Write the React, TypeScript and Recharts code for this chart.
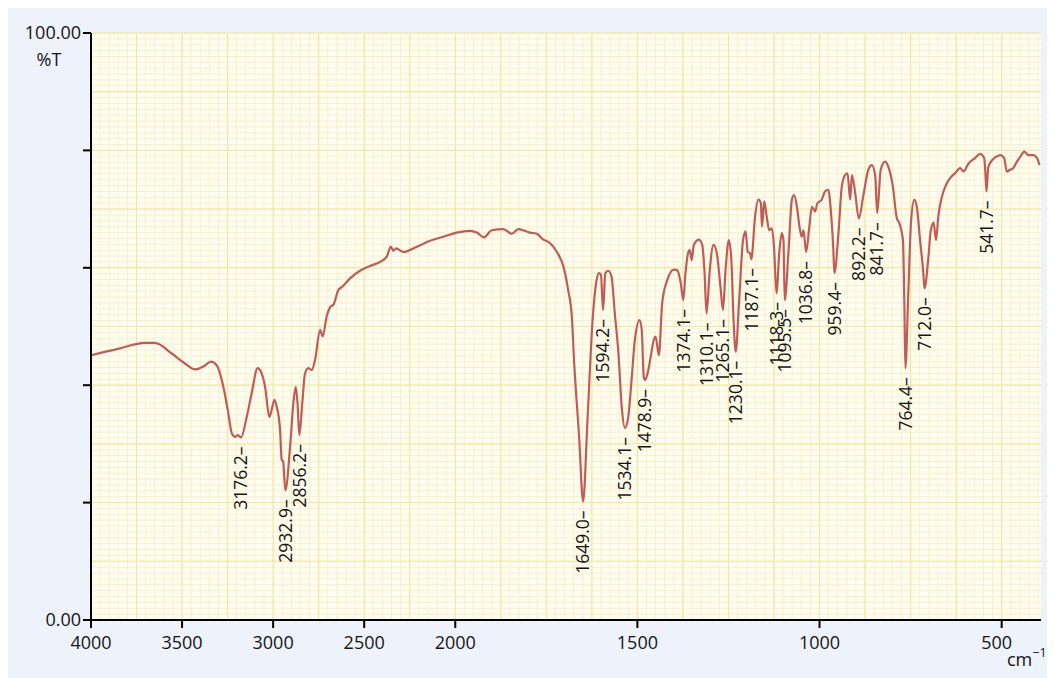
import React from 'react';
import { ComposedChart, Line, Scatter, XAxis, YAxis, CartesianGrid } from 'recharts';

// IR spectrum (cm-1 / %T)
const wavenumbers = [
  4000, 3852, 3703, 3649, 3557, 3484, 3429, 3383, 3341, 3310, 3273, 3246, 3227, 3209, 3194, 3176.2,
  3145, 3118, 3085, 3063, 3044, 3021, 3008, 2993, 2980, 2962, 2953, 2945, 2932.9, 2907, 2889, 2876,
  2866, 2856.2, 2840, 2825, 2807, 2788, 2770, 2742, 2728, 2706, 2684, 2669, 2642, 2623, 2578, 2523,
  2468, 2413, 2376, 2354, 2340, 2325, 2285, 2211, 2138, 2065, 1996, 1959, 1941, 1921, 1900, 1868,
  1845, 1827, 1795, 1776, 1758, 1744, 1721, 1703, 1690, 1680, 1674, 1660, 1649.0, 1637, 1623, 1612,
  1606, 1600, 1594.2, 1588, 1580, 1571, 1562, 1552, 1543, 1534.1, 1525, 1516, 1507, 1494, 1488, 1482.5,
  1478.9, 1472, 1462, 1455, 1450, 1441, 1432, 1418, 1400, 1391, 1381, 1374.1, 1368, 1360, 1356, 1351,
  1345, 1331, 1322, 1316, 1310.1, 1302, 1291, 1282, 1272, 1265.1, 1258, 1249, 1242, 1236, 1230.1, 1221,
  1210, 1203, 1197, 1191, 1187.1, 1177, 1168, 1161, 1158, 1152, 1145, 1138, 1131, 1125, 1118.3, 1110,
  1103.5, 1099, 1095.5, 1085, 1076, 1070, 1062, 1055, 1049, 1044, 1036.8, 1028, 1021, 1012, 1006, 994,
  985, 976, 969, 962, 959.4, 948, 939, 930, 923, 916, 911, 902, 892.2, 879.5, 866, 856,
  847, 841.7, 832, 820, 811, 799, 788, 781, 771, 767, 764.4, 756, 749, 740, 733, 724,
  715, 712.0, 701, 694.5, 687, 680, 674, 664, 650.5, 637, 628, 614, 605, 591, 573, 559,
  548, 544.5, 541.7, 537, 532, 518, 504, 493, 486, 477, 468, 458, 449, 438, 426.5, 413,
  403, 396,
];

const transmittance = [
  45.1, 46.2, 47.2, 47.2, 45.4, 43.7, 42.7, 43.2, 44.0, 43.4, 39.7, 35.2, 31.8, 31.2, 31.5, 31.1,
  34.6, 38.6, 42.9, 42.0, 39.7, 34.6, 35.8, 37.5, 36.3, 32.4, 27.3, 27.0, 22.1, 29.5, 36.9, 39.7,
  36.9, 31.5, 36.9, 42.0, 42.9, 42.6, 44.3, 49.4, 48.3, 51.7, 53.4, 53.7, 56.2, 56.7, 58.2, 59.5,
  60.3, 61.0, 61.9, 63.6, 62.9, 63.3, 62.7, 63.6, 64.6, 65.3, 66.0, 66.3, 66.0, 65.2, 66.4, 66.6,
  65.8, 66.6, 66.0, 65.8, 64.8, 64.4, 62.7, 60.2, 56.2, 51.7, 44.3, 31.2, 20.2, 34.1, 51.1, 57.9,
  59.1, 58.8, 52.8, 59.1, 59.5, 58.5, 52.2, 45.4, 36.3, 32.7, 34.6, 40.9, 47.7, 51.1, 49.4, 41.4,
  40.9, 42.0, 45.4, 47.7, 48.3, 45.1, 54.0, 57.9, 59.7, 59.6, 57.4, 54.5, 59.1, 62.7, 63.0, 61.3,
  63.9, 64.8, 63.9, 59.6, 52.2, 59.1, 63.9, 62.5, 56.8, 52.8, 59.6, 64.7, 61.3, 51.1, 45.7, 54.0,
  64.7, 66.2, 62.7, 62.5, 61.5, 68.7, 71.6, 71.0, 67.0, 71.3, 68.7, 66.4, 66.7, 63.6, 55.7, 63.0,
  65.9, 64.7, 54.5, 63.0, 71.6, 72.4, 70.4, 67.0, 65.3, 66.4, 62.7, 67.0, 70.4, 69.6, 71.0, 71.6,
  73.0, 73.3, 69.8, 63.0, 59.1, 65.9, 73.8, 75.8, 76.1, 71.6, 75.8, 72.7, 68.4, 72.4, 76.7, 77.5,
  75.6, 69.3, 76.7, 78.1, 77.2, 74.0, 68.5, 67.6, 64.7, 53.4, 42.9, 56.2, 67.6, 71.6, 70.4, 64.7,
  59.1, 56.5, 61.9, 66.4, 67.7, 64.7, 68.7, 72.1, 74.4, 75.6, 76.1, 77.0, 76.4, 77.8, 78.7, 79.4,
  78.7, 76.0, 73.0, 77.0, 77.8, 78.8, 79.2, 78.7, 76.4, 76.7, 77.0, 78.1, 78.9, 79.8, 79.2, 79.2,
  78.7, 77.5,
];

const peakWavenumbers = [
  3176.2, 2932.9, 2856.2, 1649.0, 1594.2, 1534.1, 1478.9, 1374.1, 1310.1, 1265.1, 1230.1,
  1187.1, 1118.3, 1095.5, 1036.8, 959.4, 892.2, 841.7, 764.4, 712.0, 541.7,
];

const xTickWavenumbers = [4000, 3500, 3000, 2500, 2000, 1500, 1000, 500];
const yTicks = [0, 20, 40, 60, 80, 100];

// the chart paper halves its scale below 2000 cm-1
const toU = (w: number) => (w >= 2000 ? (4000 - w) / 2 : 1000 + (2000 - w));
const fromU = (u: number) => (u <= 1000 ? 4000 - 2 * u : 3000 - u);

const U_MAX = toU(392);

const spectrum = wavenumbers.map((w, i) => ({ u: toU(w), t: transmittance[i] }));
const peaks = peakWavenumbers.map((w) => ({
  u: toU(w),
  t: transmittance[wavenumbers.indexOf(w)],
  label: w.toFixed(1) + '\u2013',
}));

const range = (from: number, to: number, step: number) => {
  const out: number[] = [];
  for (let v = from; v <= to + 1e-9; v += step) out.push(v);
  return out;
};
const minorV = range(0, U_MAX, 25);
const majorV = range(0, U_MAX, 125);
const minorH = range(0, 100, 1);
const majorH = range(0, 100, 10);

const FONT = '"Open Sans", "Noto Sans", sans-serif';
const INK = '#151515';

const PeakLabel = (props: any) => {
  const { cx, cy, payload } = props;
  if (cx == null || cy == null) return null;
  const y = cy + 9;
  return (
    <text
      x={cx}
      y={y}
      transform={`rotate(-90 ${cx} ${y})`}
      textAnchor="end"
      dy="0.36em"
      fontSize={17.5}
      fontFamily={FONT}
      fill={INK}
    >
      {payload.label}
    </text>
  );
};

// last label sits a little left of its tick to leave room for the unit
const XTick = (props: any) => {
  const { x, y, payload } = props;
  const w = Math.round(fromU(payload.value));
  return (
    <text x={w === 500 ? x - 5 : x} y={y} dy="0.75em" textAnchor="middle" fontSize={18} fontFamily={FONT} fill={INK}>
      {w}
    </text>
  );
};

export default function App() {
  return (
    <div
      style={{
        position: 'relative',
        width: 1047,
        height: 670,
        background: '#eef2fa',
        fontFamily: FONT,
        color: INK,
      }}
    >
      <style>{'html,body{overflow:hidden}'}</style>
      <ComposedChart width={1047} height={670} margin={{ top: 25, right: 14, bottom: 18, left: 0 }}>
        <CartesianGrid fill="#fffdf1" stroke="#f7f1c9" verticalValues={minorV} horizontalValues={minorH} />
        <CartesianGrid stroke="#f1e69b" verticalValues={majorV} horizontalValues={majorH} />
        <XAxis
          type="number"
          dataKey="u"
          domain={[0, U_MAX]}
          allowDataOverflow
          ticks={xTickWavenumbers.map(toU)}
          interval={0}
          height={40}
          tickSize={8}
          tickMargin={7}
          axisLine={{ stroke: '#000', strokeWidth: 2 }}
          tickLine={{ stroke: '#000', strokeWidth: 2 }}
          tick={<XTick />}
        />
        <YAxis
          type="number"
          domain={[0, 100]}
          ticks={yTicks}
          interval={0}
          width={83}
          tickSize={8}
          tickFormatter={(v: number) => (v === 0 || v === 100 ? v.toFixed(2) : '')}
          axisLine={{ stroke: '#000', strokeWidth: 2 }}
          tickLine={{ stroke: '#000', strokeWidth: 2 }}
          tick={{ fontSize: 18, fill: INK, fontFamily: FONT }}
        />
        <Line
          data={spectrum}
          dataKey="t"
          type="monotone"
          stroke="#bf5c57"
          strokeWidth={2.2}
          dot={false}
          activeDot={false}
          isAnimationActive={false}
        />
        <Scatter data={peaks} dataKey="t" shape={<PeakLabel />} isAnimationActive={false} />
      </ComposedChart>
      <div style={{ position: 'absolute', left: 21, top: 42, width: 40, textAlign: 'center', fontSize: 18, lineHeight: '18px' }}>
        %T
      </div>
      <div style={{ position: 'absolute', left: 999, top: 642, width: 48, fontSize: 18, lineHeight: '18px', whiteSpace: 'nowrap' }}>
        cm
        <span style={{ position: 'relative', top: -9, fontSize: 12.5 }}>{'\u22121'}</span>
      </div>
    </div>
  );
}
